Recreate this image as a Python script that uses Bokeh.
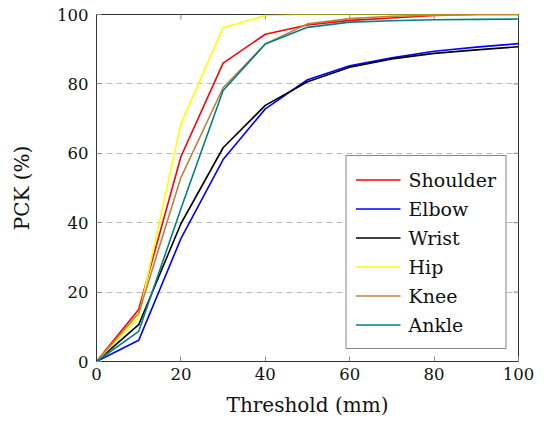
import math
from bokeh.plotting import figure
from bokeh.models import FixedTicker, Range1d, Legend, LegendItem
from bokeh.embed import file_html
from bokeh.resources import INLINE

thresholds = [0, 10, 20, 30, 40, 50, 60, 70, 80, 90, 100]
shoulder = [0, 15.0, 59.0, 86.0, 94.3, 97.0, 98.3, 99.0, 99.7, 100, 100]
elbow = [0, 6.1, 35.4, 58.2, 72.8, 81.2, 85.2, 87.5, 89.4, 90.6, 91.6]
wrist = [0, 10.6, 39.7, 61.6, 73.8, 80.6, 84.8, 87.2, 88.8, 89.8, 90.7]
hip = [0, 12.8, 68.5, 96.2, 99.7, 100, 100, 100, 100, 100, 100]
knee = [0, 13.9, 53.0, 78.9, 91.5, 97.3, 98.8, 99.5, 99.8, 100, 100]
ankle = [0, 8.7, 44.0, 78.1, 91.5, 96.3, 97.8, 98.2, 98.5, 98.6, 98.7]

series_names = ["Shoulder", "Elbow", "Wrist", "Hip", "Knee", "Ankle"]
series_values = [shoulder, elbow, wrist, hip, knee, ankle]
series_colors = ["#ff0000", "#0000ff", "#000000", "#ffff00", "#bf8040", "#008080"]

x_ticks = [0, 20, 40, 60, 80, 100]
y_ticks = [0, 20, 40, 60, 80, 100]

FONT = "DejaVu Serif"

p = figure(width=546, height=426, output_backend="svg", toolbar_location=None,
           x_range=Range1d(0, 100), y_range=Range1d(0, 100),
           min_border_left=96, min_border_right=28, min_border_top=14, min_border_bottom=65)

p.background_fill_color = "white"
p.border_fill_color = "white"
p.outline_line_color = "#333333"
p.outline_line_width = 1

p.xgrid.visible = False
p.ygrid.ticker = FixedTicker(ticks=[20, 40, 60, 80])
p.ygrid.grid_line_color = "#bbbbbb"
p.ygrid.grid_line_dash = "6 4"
p.ygrid.grid_line_width = 1

for ax, ticks in ((p.xaxis[0], x_ticks), (p.yaxis[0], y_ticks)):
    ax.ticker = FixedTicker(ticks=ticks)
    ax.axis_line_color = "#333333"
    ax.major_tick_in = 5
    ax.major_tick_out = 0
    ax.major_tick_line_color = "#888888"
    ax.minor_tick_line_color = None
    ax.major_label_text_font = FONT
    ax.major_label_text_font_size = "16.5px"
    ax.major_label_text_color = "#111111"
    ax.axis_label_text_font = FONT
    ax.axis_label_text_font_size = "20px"
    ax.axis_label_text_font_style = "normal"
    ax.axis_label_text_color = "#111111"

p.xaxis.axis_label = "Threshold (mm)"
p.yaxis.axis_label = "PCK (%)"
p.xaxis.major_label_standoff = 6
p.yaxis.major_label_standoff = 8
p.xaxis.axis_label_standoff = 10
p.yaxis.axis_label_standoff = 20

# mirrored tick marks on the top and right edges
p.ray(x=x_ticks, y=[100] * len(x_ticks), length=5, length_units="screen",
      angle=-math.pi / 2, line_color="#888888", line_width=1)
p.ray(x=[100] * len(y_ticks), y=y_ticks, length=5, length_units="screen",
      angle=math.pi, line_color="#888888", line_width=1)

items = []
for name, vals, col in zip(series_names, series_values, series_colors):
    r = p.line(thresholds, vals, line_color=col, line_width=1.6)
    items.append(LegendItem(label=name, renderers=[r]))

legend = Legend(items=items, location="bottom_right")
legend.margin = 12
legend.padding = 9
legend.spacing = 0
legend.glyph_width = 45
legend.glyph_height = 29
legend.label_height = 29
legend.label_standoff = 8
legend.label_text_font = FONT
legend.label_text_font_size = "19px"
legend.label_text_color = "#111111"
legend.border_line_color = "#111111"
legend.border_line_width = 1
legend.background_fill_alpha = 1.0
p.add_layout(legend, "center")

open("out.html", "w").write(file_html(p, INLINE))
